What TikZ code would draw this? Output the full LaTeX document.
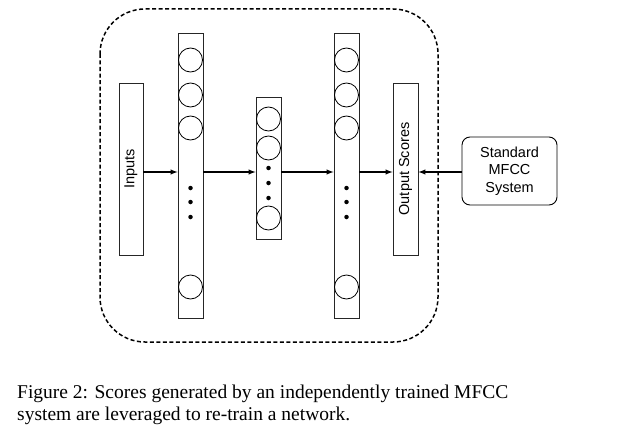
\documentclass[tikz,border=0pt]{standalone}
\usepackage{fontspec}
\setmainfont{Liberation Serif}
\setsansfont{Liberation Sans}
\usetikzlibrary{arrows}
\usetikzlibrary{positioning}

\tikzset{
  layer/.style={draw=black!85, line width=0.9pt, minimum width=25pt, inner sep=0pt},
  unit/.style={circle, draw=black, line width=0.8pt, minimum size=24pt, inner sep=0pt},
  dotty/.style={circle, fill=black, minimum size=4.5pt, inner sep=0pt},
  link/.style={black, line width=1.4pt, ->, >=latex},
  labelbox/.style={draw=black!85, line width=0.9pt, inner sep=0pt, rotate=90, minimum width=172pt,
    font=\sffamily\fontsize{14.5}{17.5}\selectfont, text=black},
}

\begin{document}
\begin{tikzpicture}[x=1pt, y=-1pt]
\useasboundingbox (0,0) rectangle (642,444);
\draw[black, line width=1.5pt, dash pattern=on 4pt off 2.5pt, rounded corners=45pt] (100,9) rectangle (438,342);
\coordinate (mid) at (0,172);

% input and output boxes
\node[labelbox, minimum height=24pt] (inputs) at (131,169) {Inputs};
\node[labelbox, minimum height=25pt] (output) at (405.5,169) {Output Scores};

% hidden layers
\node[layer, minimum height=285pt] (hid1) at (190.5,175.5) {};
\node[layer, minimum height=142pt] (hid2) at (268.5,168) {};
\node[layer, minimum height=285pt] (hid3) at (346.5,175.5) {};

\foreach \l in {hid1, hid3} {
 \foreach \y [count=\i] in {60, 95, 128, 287}
  \node[unit] (\l-u\i) at (\l |- 0,\y) {};
 \foreach \y [count=\i] in {188, 202, 217}
  \node[dotty] (\l-d\i) at (\l |- 0,\y) {};
}
\foreach \y [count=\i] in {119, 148, 218}
 \node[unit] (hid2-u\i) at (hid2 |- 0,\y) {};
\foreach \y [count=\i] in {168, 183, 198}
 \node[dotty] (hid2-d\i) at (hid2 |- 0,\y) {};

% external system
\node[draw=black, line width=0.9pt, rounded corners=8pt, minimum width=95pt, minimum height=68pt, align=center,
      font=\sffamily\fontsize{14.5}{17.5}\selectfont] (mfcc) at (509.5,171) {Standard\\MFCC\\System};

% connections
\draw[link] (inputs.south |- mid) -- (hid1.west |- mid);
\draw[link] (hid1.east |- mid) -- (hid2.west |- mid);
\draw[link] (hid2.east |- mid) -- (hid3.west |- mid);
\draw[link] (hid3.east |- mid) -- (output.north |- mid);
\draw[link] (mfcc.west |- mid) -- (output.south |- mid);

% caption
\node[anchor=base west, align=left, inner sep=0pt, font=\fontsize{19.5}{22}\selectfont] (caption) at (17,420)
  {Figure 2: Scores generated by an independently trained MFCC\\system are leveraged to re-train a network.};
\end{tikzpicture}
\end{document}
